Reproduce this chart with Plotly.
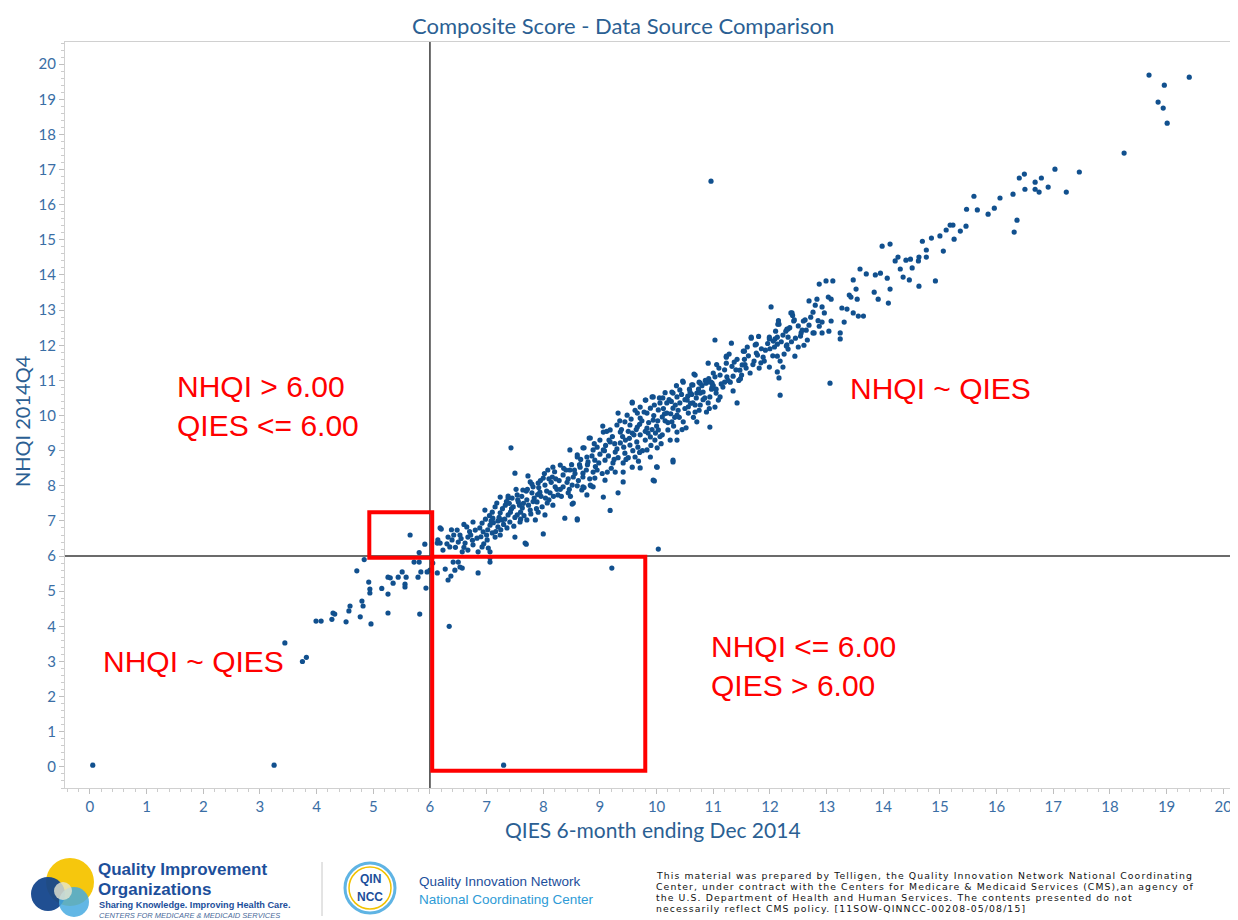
import plotly.graph_objects as go

# ---------------- data (QIES x, NHQI y) ----------------
pts_special = [(0.05,0.05),(3.25,0.05),(7.3,0.05),(6.34,4.0),(5.82,4.35),(9.21,5.66),(10.03,6.2),
               (9.18,7.3),(7.43,9.08),(10.96,16.67),(13.06,10.92),(12.18,10.58),(3.44,3.53),(3.75,3.0),
               (3.82,3.12),(8.0,6.63),(7.7,6.34)]

pts_low = [(5.65,6.6),(5.91,6.34),(5.81,6.1),(4.84,5.9),(4.71,5.58),(4.92,5.26),(4.94,5.06),(4.94,4.95),
           (5.15,5.08),(5.26,5.4),(5.30,5.38),(5.35,5.23),(5.44,5.4),(5.51,5.55),(5.58,5.4),(5.56,5.2),
           (5.56,5.12),(5.26,4.92),(5.79,5.4),(5.84,5.55),(5.72,5.83),(5.81,5.83),(5.93,5.09),(5.26,4.38),
           (4.8,4.72),(4.82,4.58),(4.59,4.58),(4.57,4.44),(4.29,4.38),(4.32,4.35),(4.27,4.2),(4.52,4.13),
           (4.77,4.27),(4.96,4.07),(3.99,4.15),(4.08,4.15),(6.13,5.52),(6.27,5.63),(6.32,5.32),(6.37,5.43),
           (6.44,5.6),(6.5,5.83),(6.57,5.66),(6.85,5.52),(7.06,5.83),(6.0,5.6),(6.05,5.8),(5.95,5.55),
           (7.06,5.95),(6.2,6.77),(6.13,6.37),(6.41,5.83),(6.53,5.69)]

pts_core1 = [(8.79,8.68),(8.65,8.53),(8.47,8.45),(8.3,8.59),(8.17,8.53),(8.08,8.45),(8.35,8.31),(8.53,8.25),
             (8.7,8.36),(8.88,8.39),(8.16,8.25),(8.0,8.22),(7.91,8.08),(7.77,8.11),(7.82,7.97),(8.03,8.02),
             (8.21,7.97),(8.35,7.97),(8.51,8.02),(8.68,7.88),(8.83,8.02),(7.64,7.88),(7.8,7.8),(7.94,7.82),
             (8.12,7.8),(8.26,7.74),(8.44,7.8),(8.53,7.51),(8.77,7.74),(7.54,7.74),(7.38,7.65),(7.56,7.54),
             (7.71,7.6),(7.89,7.54),(8.07,7.51),(8.17,7.45),(7.24,7.68),(7.18,7.51),(7.33,7.45),(7.47,7.4),
             (7.63,7.37),(7.77,7.31),(7.91,7.25),(8.03,7.17),(7.54,7.17),(6.97,7.31),(7.1,7.25),(7.24,7.23),
             (7.38,7.17),(7.11,7.08),(7.27,7.03),(7.41,6.97),(7.59,6.97),(7.71,7.03),(7.86,7.03),(8.38,7.08),
             (8.6,7.03),(6.76,6.97),(6.92,6.94),(7.06,6.88),(7.2,6.83),(7.36,6.8),(7.5,6.54),(7.68,6.37),
             (6.65,6.83),(6.8,6.74),(6.94,6.69),(7.1,6.66),(7.24,6.6),(6.48,6.74),(6.53,6.6),(6.67,6.54),
             (6.83,6.51),(7.01,6.46),(7.15,6.54),(6.32,6.54),(6.39,6.46),(6.5,6.4),(6.62,6.37),(6.76,6.32),
             (6.92,6.26),(7.03,6.23),(6.18,6.37),(6.23,6.17),(6.35,6.26),(6.57,6.12),(6.67,6.17),(6.85,6.12),
             (7.06,6.12),(6.18,6.8),(6.14,6.46),(7.5,8.36),(8.6,8.88),(8.81,9.36),(8.72,9.08),(8.51,7.48),
             (7.73,8.28),(7.38,7.71),(8.6,7.06),(9.06,7.68),(9.32,7.8),(9.96,8.14),(10.0,8.54),(10.29,8.68)]

pts_core1b = [(6.3,6.35),(6.42,6.6),(6.55,6.5),(6.6,6.9),(6.7,6.7),(6.75,6.45),(6.88,6.8),(6.9,6.55),
              (6.98,7.05),(7.02,6.75),(7.12,6.95),(7.15,7.4),(7.2,7.0),(7.28,7.35),(7.3,6.9),(7.35,7.55),
              (7.42,7.25),(7.45,7.65),(7.5,7.1),(7.52,7.9),(7.58,7.45),(7.62,7.7),(7.66,7.15),(7.7,7.85),
              (7.74,7.45),(7.8,8.05),(7.84,7.65),(7.88,7.35),(7.92,7.95),(7.96,7.7),(8.02,8.35),(8.06,7.85),
              (8.1,7.6),(8.14,8.1),(8.2,8.4),(8.24,7.9),(8.28,8.15),(8.32,7.7),(8.4,8.45),(8.42,8.1),
              (8.46,7.9),(8.5,8.6),(8.56,8.35),(8.62,8.15),(8.66,8.75),(8.72,7.95),(8.76,8.45),(8.82,8.2),
              (8.86,8.85),(8.92,8.55),(6.45,6.25),(6.6,6.25),(6.95,6.35),(7.25,6.75),(7.6,7.25),(6.38,6.75),
              (6.72,6.6),(7.05,7.15),(7.4,7.5),(7.95,8.15)]

pts_core2 = [(10.66,11.18),(11.0,11.21),(10.47,10.95),(10.62,10.87),(10.77,10.92),(10.89,10.95),(10.98,10.92),
             (10.71,10.64),(10.82,10.67),(10.94,10.53),(11.05,10.64),(10.27,10.67),(10.36,10.53),(10.41,10.36),
             (10.54,10.44),(10.64,10.36),(10.77,10.3),(10.91,10.36),(11.03,10.24),(11.09,10.44),(9.94,10.53),
             (9.81,10.44),(9.57,10.36),(10.06,10.36),(10.18,10.36),(10.29,10.21),(10.56,10.07),(10.68,10.1),
             (10.36,10.01),(10.18,10.07),(10.03,10.16),(9.89,10.21),(9.71,10.24),(9.83,10.07),(9.66,10.07),
             (9.32,10.07),(9.48,10.01),(9.71,9.93),(9.94,9.87),(10.1,9.96),(10.27,9.82),(10.47,9.82),
             (10.71,9.82),(10.94,9.67),(9.44,9.82),(9.53,9.73),(9.66,9.67),(9.83,9.64),(10.03,9.59),
             (10.2,9.59),(10.36,9.53),(9.3,9.73),(9.06,9.53),(9.18,9.59),(9.36,9.53),(9.57,9.5),(9.71,9.45),
             (9.89,9.39),(9.97,9.3),(10.24,9.3),(10.36,9.3),(8.83,9.36),(9.0,9.3),(9.18,9.25),(9.36,9.22),
             (9.53,9.16),(9.67,9.1),(9.83,9.02),(10.01,9.08),(8.7,9.08),(8.88,9.02),(9.06,9.02),(9.27,8.96),
             (9.44,8.93),(9.62,8.82),(9.89,8.82),(10.29,8.73),(10.01,8.53),(9.94,8.16),(8.47,9.02),(8.6,8.82),
             (8.77,8.82),(8.91,8.73),(9.09,8.73),(9.23,8.65),(9.41,8.65),(9.57,8.53),(9.71,8.51),(9.41,8.39),
             (8.95,8.45),(9.13,8.39),(9.27,8.39),(8.91,8.22),(9.09,8.16),(9.41,8.11),(8.7,7.97),(8.88,7.97),
             (9.57,10.38),(9.8,10.44),(9.92,10.53),(11.42,10.36)]

pts_core2b = [(9.0,8.9),(9.1,9.15),(9.15,8.85),(9.22,9.4),(9.3,9.05),(9.38,9.6),(9.45,9.3),(9.5,8.8),
              (9.55,9.9),(9.6,9.45),(9.65,9.25),(9.7,9.75),(9.75,9.0),(9.78,10.1),(9.85,9.5),(9.9,9.15),
              (9.95,10.0),(10.0,9.7),(10.05,10.5),(10.1,9.45),(10.12,10.2),(10.15,9.85),(10.22,10.45),
              (10.25,10.05),(10.3,9.7),(10.33,10.3),(10.4,9.95),(10.44,10.6),(10.5,10.2),(10.52,9.65),
              (10.58,10.75),(10.6,10.35),(10.65,9.95),(10.7,10.5),(10.75,10.15),(10.8,10.85),(10.85,10.5),
              (10.88,10.1),(10.92,11.05),(10.97,10.75),(9.05,9.7),(9.25,8.75),(9.35,9.85),(9.5,9.55),
              (9.62,10.15),(9.8,9.3),(9.98,9.5),(10.15,10.65),(10.35,10.85),(10.55,10.55),(8.95,9.1),
              (9.12,9.55),(9.42,9.1),(9.7,8.95),(10.08,9.2)]

pts_core3 = [(12.69,13.26),(12.76,12.94),(12.39,12.92),(12.14,12.6),(12.3,12.46),(12.42,12.69),(12.59,12.69),
             (12.64,12.43),(12.55,12.35),(12.66,12.15),(12.76,12.35),(11.99,12.18),(12.09,12.18),(12.13,12.03),
             (12.23,12.29),(12.3,12.01),(12.32,11.89),(11.03,12.15),(11.32,12.06),(11.67,12.2),(11.74,12.01),
             (11.53,11.83),(11.92,11.86),(11.78,11.72),(11.23,11.66),(11.37,11.52),(11.51,11.44),(11.58,11.35),
             (11.23,11.49),(11.47,11.29),(11.65,11.21),(11.81,11.35),(11.99,11.38),(12.13,11.24),(12.23,11.38),
             (12.44,11.69),(12.16,11.07),(11.03,11.1),(11.12,11.15),(11.24,11.1),(11.35,11.12),(10.91,11.49),
             (10.96,10.95),(10.87,10.92),(10.68,11.15),(10.75,10.95),(10.64,10.87),(10.46,10.98),(10.98,10.81),
             (11.12,10.53),(11.3,10.95),(11.17,10.81),(10.29,10.64),(10.41,10.73),(10.59,10.67),(10.77,10.64),
             (10.11,10.5)]

pts_core3b = [(11.1,11.35),(11.2,10.95),(11.28,11.75),(11.4,11.3),(11.45,11.0),(11.55,11.6),(11.6,11.95),
              (11.7,11.45),(11.85,11.9),(11.9,11.55),(12.05,11.7),(12.1,12.4),(12.2,12.1),(12.25,11.75),
              (12.35,12.5),(12.45,12.2),(12.5,11.95),(11.05,10.75),(11.35,10.7),(11.5,11.15),(11.8,12.25),
              (12.0,11.9),(12.15,12.7),(12.4,12.85)]

pts_core_extra = [(7.0,6.6),(7.08,7.0),(7.16,6.7),(7.22,7.1),(7.32,7.05),(7.44,7.35),(7.48,6.85),(7.55,7.6),
                  (7.6,7.05),(7.65,7.5),(7.72,7.9),(7.78,7.2),(7.82,7.55),(7.9,7.75),(7.98,7.4),(8.04,7.65),
                  (8.1,8.2),(8.18,7.7),(8.22,8.2),(8.3,7.9),(8.36,8.5),(8.44,8.2),(8.48,7.7),(8.55,8.45),
                  (8.6,8.0),(8.64,8.6),(8.7,8.25),(8.78,8.6),(8.84,8.0),(8.9,9.2),(8.98,8.65),(9.04,8.35),
                  (9.08,9.0),(9.16,9.3),(9.2,8.5),(9.26,9.2),(9.32,8.8),(9.4,9.4),(9.46,8.75),(9.52,9.35),
                  (9.58,9.0),(9.64,9.6),(9.68,8.7),(9.74,9.85),(9.8,9.55),(9.86,9.8),(9.92,9.6),(9.96,10.3),
                  (10.02,9.85),(10.06,9.4),(10.14,10.05),(10.2,9.8),(10.26,10.4),(10.32,9.95),(10.38,10.15),
                  (10.45,9.6),(10.5,10.45),(10.56,10.25),(10.62,10.6),(10.68,10.3),(10.74,10.75),(10.82,10.45),
                  (10.86,11.0),(10.93,10.2),(11.0,10.85),(11.06,11.45),(11.14,10.9),(11.2,11.3),(11.26,11.0),
                  (11.33,11.4),(11.42,11.6),(11.48,11.05),(11.56,11.45),(11.62,11.7),(11.72,11.55),(11.84,11.5),
                  (11.96,12.05),(12.08,11.95),(12.18,11.55),(12.28,12.4),(12.38,12.1),(12.5,12.55),(12.6,12.0),
                  (12.72,12.8),(12.85,12.7)]

pts_high = [(18.69,19.69),(19.4,19.63),(18.96,19.4),(18.85,18.92),(18.94,18.75),(19.01,18.32),(18.25,17.47),
            (17.46,16.93),(17.03,17.01),(16.49,16.87),(16.4,16.76),(16.79,16.76),(16.68,16.64),(16.5,16.44),
            (16.68,16.44),(16.75,16.36),(16.91,16.5),(17.23,16.36),(16.29,16.3),(16.36,15.56),(16.31,15.22),
            (16.06,16.19),(15.6,16.24),(15.47,15.87),(15.66,15.85),(15.96,15.9),(15.85,15.73),(15.18,15.42),
            (15.23,15.42),(15.11,15.28),(15.36,15.25),(15.46,15.39),(15.25,15.02),(15.0,15.11),(14.85,15.05),
            (14.69,14.96),(14.76,14.71),(15.06,14.68),(14.12,14.88),(13.98,14.82),(14.26,14.51),(14.21,14.4),
            (14.4,14.42),(14.48,14.45),(14.63,14.51),(14.62,14.4),(14.76,14.51),(14.3,14.17),(14.51,14.2),
            (14.35,13.94),(14.46,13.86),(14.63,13.68),(14.92,13.83),(14.12,13.6),(14.09,13.2),(13.91,13.31),
            (13.84,13.51),(13.95,14.05),(13.86,14.0),(14.07,13.91),(13.59,14.17),(13.7,14.03),(13.47,13.86),
            (13.52,13.6),(13.4,13.43),(13.43,13.37),(13.54,13.31),(13.27,13.06),(13.36,13.03),(13.47,12.92),
            (13.56,12.83),(13.65,12.83),(13.31,12.66),(12.87,13.74),(12.99,13.83),(13.11,13.83),(12.83,13.31),
            (13.03,13.37),(13.08,13.31),(12.8,13.14),(12.92,13.09),(12.02,13.09),(12.37,12.92),(12.96,12.92),
            (13.08,12.69),(12.92,12.66),(12.16,12.6),(12.43,12.72),(12.62,12.72),(12.69,12.57),(12.87,12.54),
            (12.32,12.46),(12.57,12.43),(12.78,12.35),(12.92,12.35),(13.04,12.4),(13.24,12.35),(13.24,12.18),
            (11.67,12.23),(11.99,12.23),(12.13,12.23),(12.32,12.23),(12.54,12.26),(12.06,12.12),(11.76,12.03),
            (12.29,11.98),(11.55,11.83),(11.76,11.78),(11.23,11.69),(11.88,11.66),(12.13,11.69)]

threshold = 6.0
box_small = (4.93, 6.04, 5.95, 7.25)   # x0, x1, y0, y1
box_large = (6.04, 9.8, -0.11, 5.98)
x_ticks = list(range(0, 21))
y_ticks = list(range(0, 21))

all_pts = (pts_special + pts_low + pts_core1 + pts_core1b + pts_core2 + pts_core2b +
           pts_core3 + pts_core3b + pts_core_extra + pts_high)
qies = [p[0] for p in all_pts]
nhqi = [p[1] for p in all_pts]

# ---------------- figure ----------------
# the html page body has an 8px margin, so the figure is drawn 8px smaller and offset
OFF = 8
W, H = 1238 - OFF, 920 - OFF
ML, MR, MT = 65 - OFF, 0, 42 - OFF
MB = H - (788 - OFF)
PW, PH = W - ML - MR, H - MT - MB

def px(x):   # page pixel -> paper x
    return (x - OFF - ML) / PW

def py(y):   # page pixel -> paper y
    return (H - MB - (y - OFF)) / PH

fig = go.Figure()
fig.add_trace(go.Scatter(x=qies, y=nhqi, mode="markers",
                         marker=dict(size=5.2, color="#11508E"),
                         hoverinfo="x+y", showlegend=False))

tick_font = dict(family="Lato, Open Sans, sans-serif", size=15, color="#3A6EA5")
fig.update_xaxes(range=[-0.44, 20.26], tickvals=x_ticks, ticks="outside", ticklen=5,
                 tickcolor="#bfbfbf", showline=True, linecolor="#d0d0d0", linewidth=1, mirror=True,
                 showgrid=False, zeroline=False, tickfont=tick_font,
                 minor=dict(dtick=0.2, ticks="outside", ticklen=3, tickcolor="#cccccc"))
fig.update_yaxes(range=[-0.6, 20.63], tickvals=y_ticks, ticks="outside", ticklen=5,
                 tickcolor="#bfbfbf", showline=True, linecolor="#d0d0d0", linewidth=1, mirror=True,
                 showgrid=False, zeroline=False, tickfont=tick_font,
                 minor=dict(dtick=0.2, ticks="outside", ticklen=3, tickcolor="#cccccc"))

# threshold lines
fig.add_shape(type="line", xref="x", yref="paper", x0=threshold, x1=threshold, y0=0, y1=1,
              line=dict(color="#3a3a3a", width=1.5))
fig.add_shape(type="line", xref="paper", yref="y", x0=0, x1=1, y0=threshold, y1=threshold,
              line=dict(color="#3a3a3a", width=1.5))
# red boxes
for (bx0, bx1, by0, by1) in (box_small, box_large):
    fig.add_shape(type="rect", xref="x", yref="y", x0=bx0, x1=bx1, y0=by0, y1=by1,
                  line=dict(color="#FF0000", width=4), fillcolor="rgba(0,0,0,0)")

red_font = dict(family="Arial, Liberation Sans, sans-serif", size=30, color="#FF0000")
for (tx, ty, txt) in [(1.5, 10.27, "NHQI > 6.00<br>QIES <= 6.00"),
                      (13.38, 10.78, "NHQI ~ QIES"),
                      (0.19, 2.99, "NHQI ~ QIES"),
                      (10.93, 2.87, "NHQI <= 6.00<br>QIES > 6.00")]:
    fig.add_annotation(x=tx, y=ty, xref="x", yref="y", text=txt, showarrow=False,
                       xanchor="left", yanchor="middle", align="left", font=red_font)


def label(x, y, text, font, xanchor="center", **kw):
    fig.add_annotation(x=px(x), y=py(y), xref="paper", yref="paper", showarrow=False,
                       xanchor=xanchor, yanchor="middle", align="left", text=text, font=font,
                       borderpad=0, **kw)


title_col = "#2B5F93"
label(623, 25, "Composite Score - Data Source Comparison",
      dict(family="Lato, Open Sans, sans-serif", size=22, color=title_col))
label(653, 829, "QIES 6-month ending Dec 2014",
      dict(family="Lato, Open Sans, sans-serif", size=21, color=title_col))
label(22, 421, "NHQI 2014Q4",
      dict(family="Lato, Open Sans, sans-serif", size=20, color=title_col), textangle=-90)

# ---------------- footer (logos & disclaimer) ----------------
def circle(cx, cy, r, fill, line=None, lw=0):
    fig.add_shape(type="circle", xref="paper", yref="paper",
                  x0=px(cx - r), x1=px(cx + r), y0=py(cy + r), y1=py(cy - r),
                  fillcolor=fill, line=dict(color=line or fill, width=lw), layer="above")

circle(70, 882, 24, "rgba(245,196,0,0.95)")
circle(48, 894, 17, "rgba(20,70,140,0.95)")
circle(74, 902, 15, "rgba(70,170,225,0.85)")
circle(63, 891, 9, "rgba(230,230,210,0.8)")

logo_blue = "#1D4F9B"
logo_font = dict(family="Arial, Liberation Sans, sans-serif", size=17, color=logo_blue)
label(97, 869.5, "<b>Quality Improvement</b>", logo_font, xanchor="left")
label(97, 889.3, "<b>Organizations</b>", logo_font, xanchor="left")
label(98, 904.6, "<b>Sharing Knowledge. Improving Health Care.</b>",
      dict(family="Arial, sans-serif", size=9.2, color=logo_blue), xanchor="left")
label(98, 915.1, "<i>CENTERS FOR MEDICARE &amp; MEDICAID SERVICES</i>",
      dict(family="Arial, sans-serif", size=7.5, color="#4a6a9a"), xanchor="left")

fig.add_shape(type="line", xref="paper", yref="paper", x0=px(322), x1=px(322), y0=py(862), y1=py(916),
              line=dict(color="#c8c8c8", width=1))

circle(370, 888, 25, "white", "#5FB4E4", 3)
circle(370, 888, 21, "rgba(0,0,0,0)", "#F2C200", 1.5)
label(370, 879, "<b>QIN</b>", dict(family="Arial, sans-serif", size=12, color=logo_blue))
label(370, 897, "<b>NCC</b>", dict(family="Arial, sans-serif", size=12, color=logo_blue))
label(418, 881, "Quality Innovation Network",
      dict(family="Arial, sans-serif", size=13.5, color=logo_blue), xanchor="left")
label(418, 899, "National Coordinating Center",
      dict(family="Arial, sans-serif", size=13.5, color="#2E9BD6"), xanchor="left")

disclaimer_lines = [
    "This material was prepared by Telligen, the Quality Innovation Network National Coordinating",
    "Center, under contract with the Centers for Medicare &amp; Medicaid Services (CMS),an agency of",
    "the U.S. Department of Health and Human Services. The contents presented do not",
    "necessarily reflect CMS policy. [11SOW-QINNCC-00208-05/08/15]",
]
for i, line in enumerate(disclaimer_lines):
    label(655, 875.5 + i * 11.0, "<span style='letter-spacing:1.1px'>" + line + "</span>",
          dict(family="DejaVu Sans, sans-serif", size=9.3, color="#111111"), xanchor="left")

fig.update_layout(width=W, height=H, margin=dict(l=ML, r=MR, t=MT, b=MB),
                  plot_bgcolor="white", paper_bgcolor="white", showlegend=False)

fig.write_html("out.html")
